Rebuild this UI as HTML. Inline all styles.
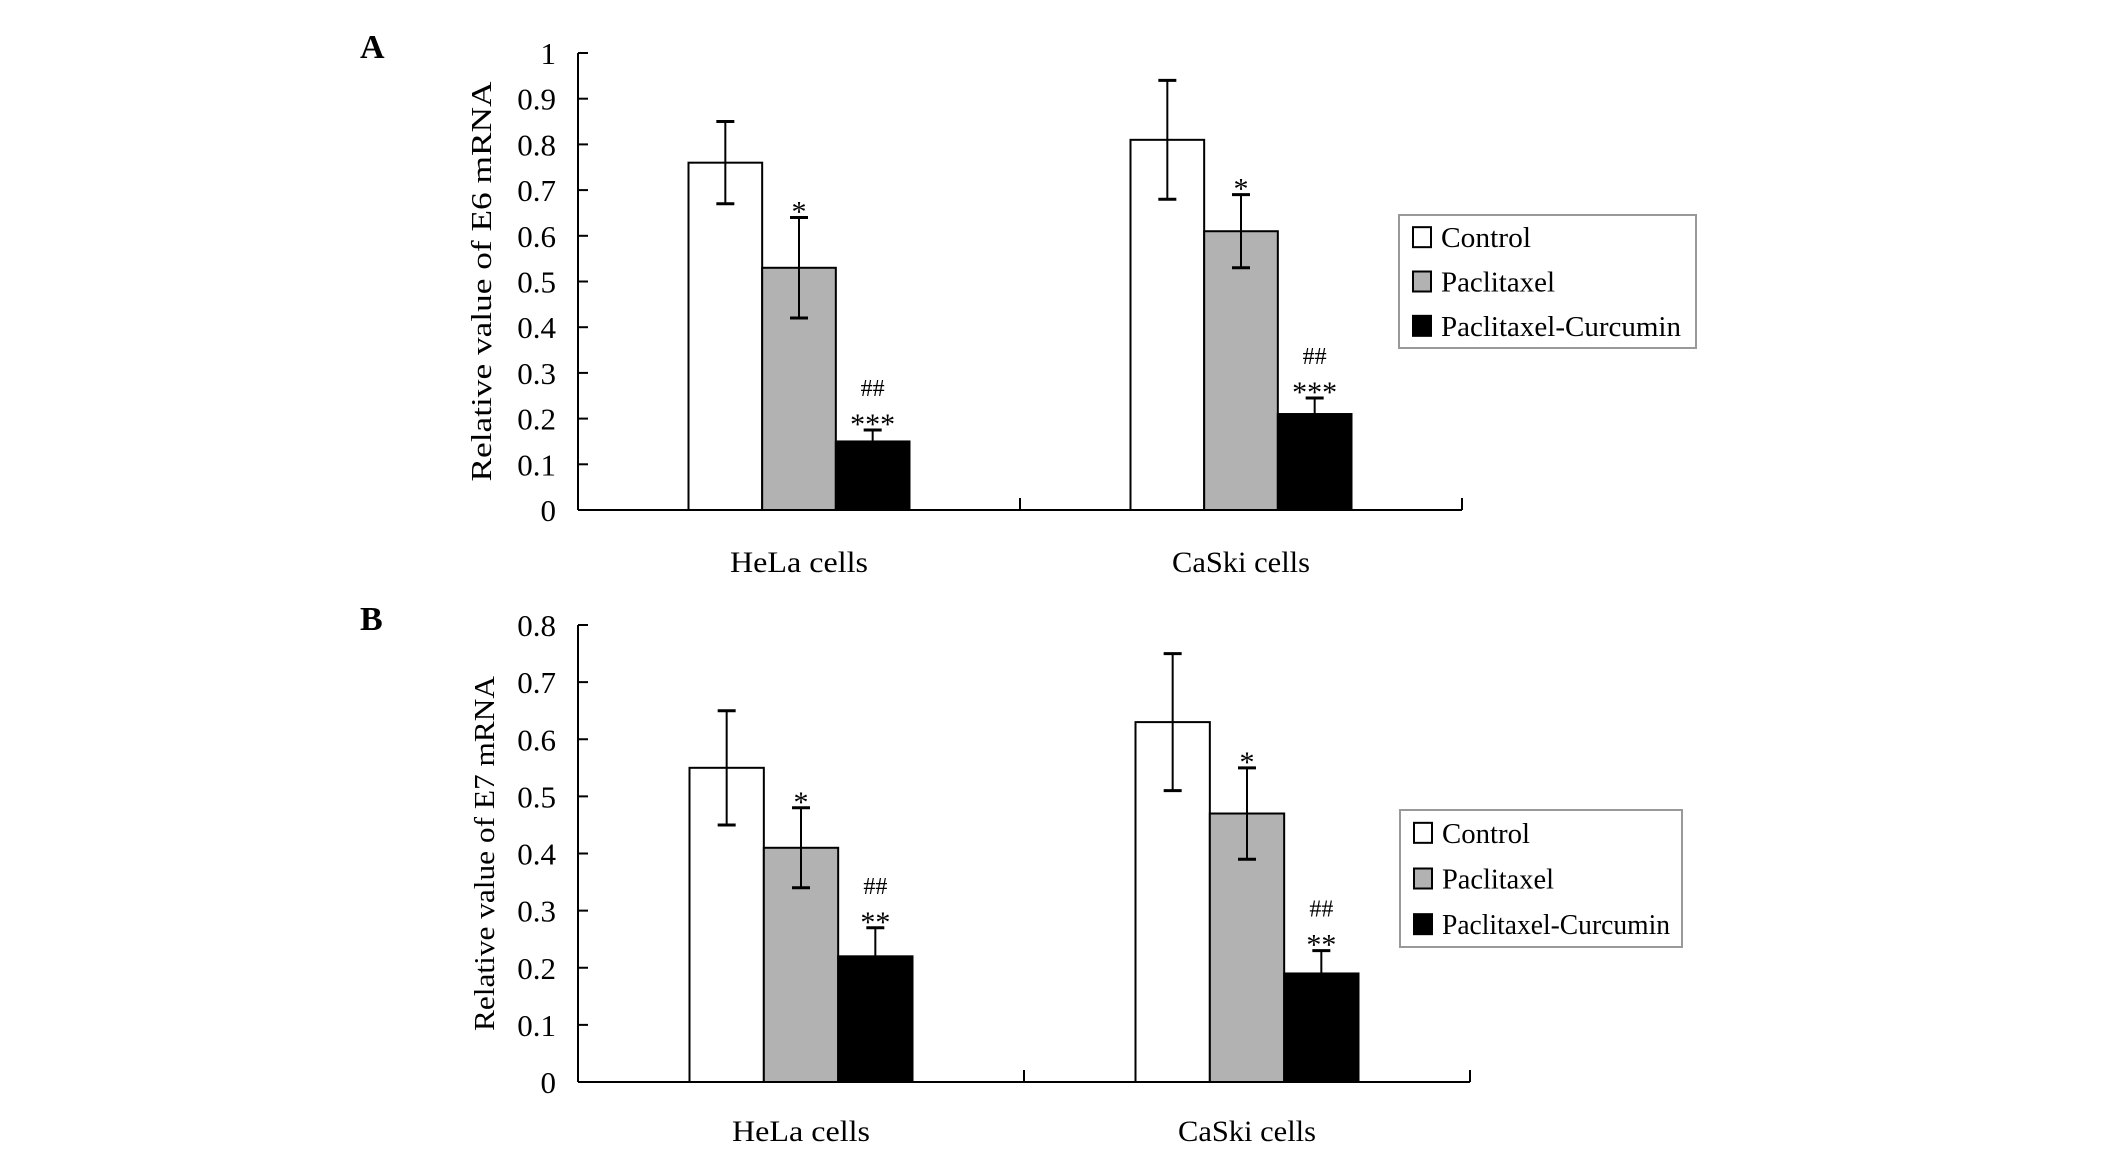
<!DOCTYPE html>
<html><head><meta charset="utf-8"><style>
html,body{margin:0;padding:0;background:#fff;}
svg{display:block;font-family:"Liberation Serif",serif;}
</style></head><body>
<svg id="fig" width="2126" height="1150" viewBox="0 0 2126 1150" xmlns="http://www.w3.org/2000/svg">
<text x="360" y="58" font-size="34" font-weight="bold">A</text>
<text x="360" y="630" font-size="34" font-weight="bold">B</text>
<g id="chartA"></g>
<g id="chartB"></g>
</svg>
<script>
const categories = ["HeLa cells", "CaSki cells"];
const seriesNames = ["Control", "Paclitaxel", "Paclitaxel-Curcumin"];
const seriesColors = ["#ffffff", "#b2b2b2", "#000000"];
// Panel A (E6)
const aControl = [0.76, 0.81];
const aPaclitaxel = [0.53, 0.61];
const aCombo = [0.15, 0.21];
const aErrControl = [0.09, 0.13];
const aErrPaclitaxel = [0.11, 0.08];
const aErrCombo = [0.025, 0.035];
const aTicks = ["0","0.1","0.2","0.3","0.4","0.5","0.6","0.7","0.8","0.9","1"];
const aMarks = [["", "*", "##\n***"], ["", "*", "##\n***"]];
// Panel B (E7)
const bControl = [0.55, 0.63];
const bPaclitaxel = [0.41, 0.47];
const bCombo = [0.22, 0.19];
const bErrControl = [0.10, 0.12];
const bErrPaclitaxel = [0.07, 0.08];
const bErrCombo = [0.05, 0.04];
const bTicks = ["0","0.1","0.2","0.3","0.4","0.5","0.6","0.7","0.8"];
const bMarks = [["", "*", "##\n**"], ["", "*", "##\n**"]];

const NS = "http://www.w3.org/2000/svg";
function mk(parent, tag, attrs, text) {
  const e = document.createElementNS(NS, tag);
  for (const k in attrs) e.setAttribute(k, attrs[k]);
  if (text !== undefined) e.textContent = text;
  parent.appendChild(e);
  return e;
}

function draw(gid, L, series, errs, ticks, marks, title, legend) {
  const g = document.getElementById(gid);
  const yMax = parseFloat(ticks[ticks.length - 1]);
  const y = v => L.zero - (v / yMax) * (L.zero - L.top);
  const catW = (L.right - L.axisX) / categories.length;
  const barW = catW / 2 / series.length;
  const xBar = (ci, si) => L.axisX + catW * ci + catW / 4 + barW * si;

  const ya = mk(g, "line", {x1: L.axisX, y1: L.top, x2: L.axisX, y2: L.zero, stroke: "#000", "stroke-width": 2});
  
  
  const xa = mk(g, "line", {x1: L.axisX, y1: L.zero, x2: L.right, y2: L.zero, stroke: "#000", "stroke-width": 2});
  
  
  for (let c = 1; c <= categories.length; c++) {
    const tx = L.axisX + catW * c;
    const t = mk(g, "line", {x1: tx, y1: L.zero, x2: tx, y2: L.zero - 12, stroke: "#000", "stroke-width": 2});
    
    
  }
  ticks.forEach(tl => {
    const v = parseFloat(tl);
    const tk = mk(g, "line", {x1: L.axisX, y1: y(v), x2: L.axisX + 10, y2: y(v), stroke: "#000", "stroke-width": 2});
    
    
    const lb = mk(g, "text", {x: L.axisX - 22, y: y(v) + 11, "font-size": 31, "text-anchor": "end"}, tl);
    
    
  });
  const tt = mk(g, "text", {x: 0, y: 0, "font-size": 29, "text-anchor": "middle",
    transform: `translate(${L.titleX},${(L.top + L.zero) / 2}) rotate(-90)`, textLength: L.titleLen, lengthAdjust: "spacingAndGlyphs"}, title);
  
  
  categories.forEach((c, ci) => {
    const t = mk(g, "text", {x: L.axisX + catW * (ci + 0.5), y: L.catY, "font-size": 30, "text-anchor": "middle", textLength: 138, lengthAdjust: "spacingAndGlyphs"}, c);
    
    
  });
  series.forEach((vals, si) => {
    vals.forEach((v, ci) => {
      const x = xBar(ci, si);
      const r = mk(g, "rect", {x: x, y: y(v), width: barW, height: L.zero - y(v), fill: seriesColors[si], stroke: "#000", "stroke-width": 2});
      
      
      const e = errs[si][ci];
      const cx = x + barW / 2;
      const lo = si === 2 ? v : v - e;
      const el = mk(g, "line", {x1: cx, y1: y(v + e), x2: cx, y2: y(lo), stroke: "#000", "stroke-width": 2});
      
      
      const c1 = mk(g, "line", {x1: cx - 9, y1: y(v + e), x2: cx + 9, y2: y(v + e), stroke: "#000", "stroke-width": 3});
      
      
      if (si !== 2) {
        const c2 = mk(g, "line", {x1: cx - 9, y1: y(lo), x2: cx + 9, y2: y(lo), stroke: "#000", "stroke-width": 3});
        
        
      }
      const m = marks[ci][si];
      if (m) {
        const capY = y(v + e);
        m.split("\n").forEach(ln => {
          const isStar = ln.indexOf("*") >= 0;
          const t = mk(g, "text", {x: cx, y: isStar ? capY + 4 : capY - 34, "font-size": isStar ? 30 : 24, "text-anchor": "middle"}, ln);
          
          
        });
      }
    });
  });
  const lg = mk(g, "g", {});
  
  
  const box = mk(lg, "rect", {x: legend.x, y: legend.y, width: legend.w, height: legend.h, fill: "#fff", stroke: "#999", "stroke-width": 2});
  
  
  const step = legend.h / 3;
  seriesNames.forEach((n, i) => {
    const cy = legend.y + step * (i + 0.5);
    const sw = mk(lg, "rect", {x: legend.x + 14, y: cy - 10, width: 18, height: 20, fill: seriesColors[i], stroke: "#000", "stroke-width": 2});
    
    
    const t = mk(lg, "text", {x: legend.x + 42, y: cy + 10, "font-size": 28, textLength: legend.tl[i], lengthAdjust: "spacingAndGlyphs"}, n);
    
    
  });
}

draw("chartA", {axisX: 578, top: 53, zero: 510, right: 1462, titleX: 491, titleLen: 400, catY: 572},
  [aControl, aPaclitaxel, aCombo], [aErrControl, aErrPaclitaxel, aErrCombo], aTicks, aMarks,
  "Relative value of E6 mRNA", {x: 1399, y: 215, w: 297, h: 133, tl: [90, 114, 240]});
draw("chartB", {axisX: 578, top: 625, zero: 1082, right: 1470, titleX: 494, titleLen: 355, catY: 1141},
  [bControl, bPaclitaxel, bCombo], [bErrControl, bErrPaclitaxel, bErrCombo], bTicks, bMarks,
  "Relative value of E7 mRNA", {x: 1400, y: 810, w: 282, h: 137, tl: [88, 112, 228]});
</script>
</body></html>
